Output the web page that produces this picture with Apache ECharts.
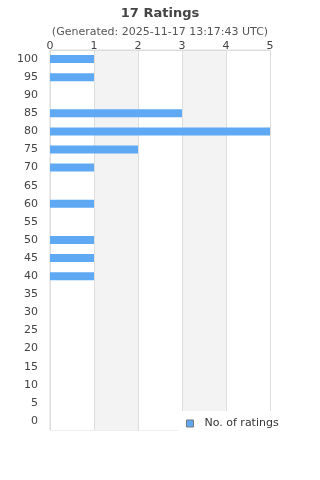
<!DOCTYPE html>
<html><head><meta charset="utf-8">
<script src="https://cdn.jsdelivr.net/npm/echarts@6/dist/echarts.min.js"></script>
<style>html,body{margin:0;padding:0;background:#fff}#c{width:320px;height:480px}</style>
</head><body><div id="c"></div>
<script>
const titleText = '17 Ratings';
const subtitleText = '(Generated: 2025-11-17 13:17:43 UTC)';
const categories = ['0','5','10','15','20','25','30','35','40','45','50','55','60','65','70','75','80','85','90','95','100'];
const counts = [0,0,0,0,0,0,0,0,1,1,1,0,1,0,1,2,5,3,0,1,1];
const seriesName = 'No. of ratings';

const chart = echarts.init(document.getElementById('c'), null, {renderer:'canvas'});
chart.setOption({
  animation:false,
  textStyle:{fontFamily:'DejaVu Sans'},
  title:[
    {text:titleText,left:'center',top:2,textStyle:{fontSize:13,fontWeight:'bold',color:'#444',fontFamily:'DejaVu Sans'}},
    {text:subtitleText,left:'center',top:22,textStyle:{fontSize:11,fontWeight:'normal',color:'#555',fontFamily:'DejaVu Sans'}}
  ],
  grid:{left:50,right:50,top:50,bottom:50,show:true,borderColor:'#ddd',borderWidth:1,backgroundColor:'transparent'},
  xAxis:{type:'value',position:'top',min:0,max:5,interval:1,
    axisLine:{show:true,lineStyle:{color:'#ddd'}},axisTick:{show:false},
    axisLabel:{color:'#444',fontSize:11,margin:-2,fontFamily:'DejaVu Sans'},
    splitLine:{show:true,lineStyle:{color:'#ddd'}},
    splitArea:{show:true,areaStyle:{color:['#ffffff','#f3f3f3']}}},
  yAxis:{type:'category',data:categories,
    axisLine:{show:true,lineStyle:{color:'#ddd'}},axisTick:{show:false},
    axisLabel:{color:'#444',fontSize:11,margin:12,fontFamily:'DejaVu Sans'}},
  legend:{data:[{name:seriesName,icon:'rect',itemStyle:{color:'#5fa8f4',borderColor:'#777',borderWidth:1}}],
    left:178,top:411,itemWidth:7,itemHeight:7,
    backgroundColor:'#fff',padding:[7,8,6,8],
    textStyle:{color:'#333',fontSize:11,fontFamily:'DejaVu Sans',padding:[0,0,0,6]}},
  series:[{name:seriesName,type:'bar',data:counts,barWidth:8,
    itemStyle:{color:'#5fa8f4'}}]
});
</script></body></html>
